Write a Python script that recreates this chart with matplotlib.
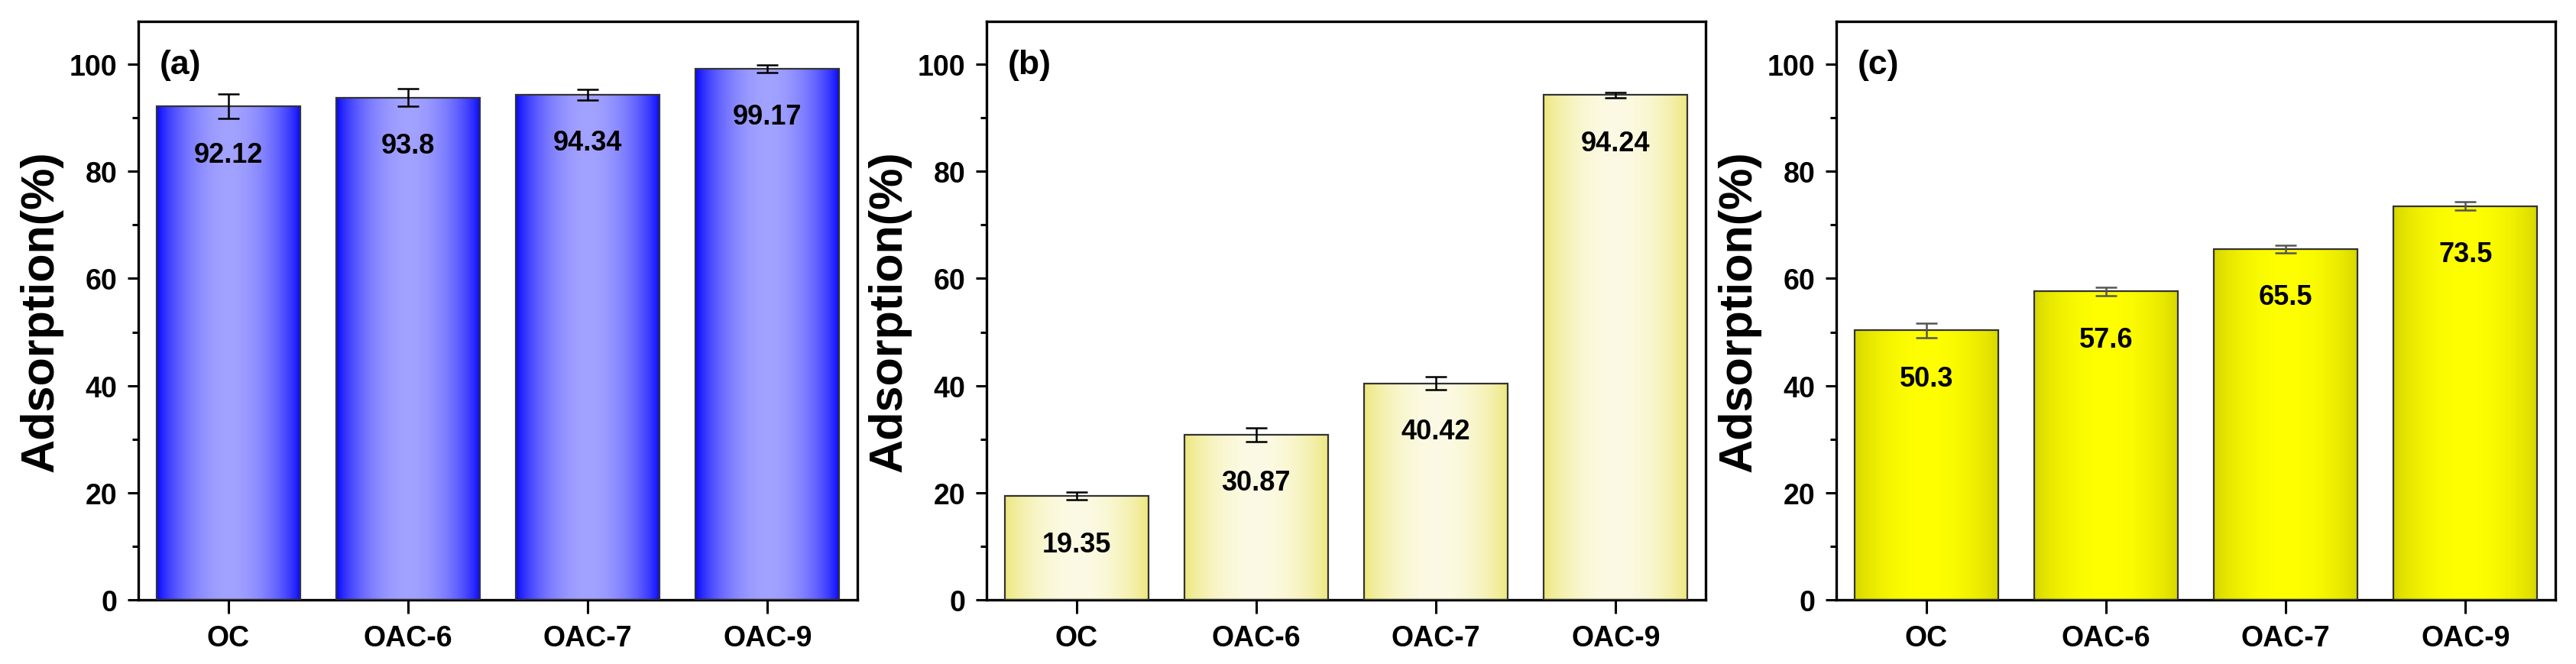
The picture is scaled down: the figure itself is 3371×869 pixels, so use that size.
import numpy as np
import matplotlib
matplotlib.use("Agg")
import matplotlib.pyplot as plt

# data
samples = ["OC", "OAC-6", "OAC-7", "OAC-9"]
vals_a = [92.12, 93.8, 94.34, 99.17]
err_a = [2.3, 1.7, 1.0, 0.7]
vals_b = [19.35, 30.87, 40.42, 94.24]
err_b = [0.7, 1.3, 1.2, 0.5]
vals_c = [50.3, 57.6, 65.5, 73.5]
err_c = [1.4, 0.75, 0.7, 0.8]
panel_tags = ["(a)", "(b)", "(c)"]

plt.rcParams['font.family'] = ['Liberation Sans', 'DejaVu Sans']
plt.rcParams['font.weight'] = 'bold'

fig = plt.figure(figsize=(33.71, 8.70), dpi=100)

lefts = [181, 1291, 2403]
W, H = 3371, 870
ax_w = 941 / W
ax_b = 1 - 786 / H
ax_h = (786 - 29) / H


def gradient_img(edge, center, n=256, p=0.7):
    t = np.linspace(0, 1, n)
    f = np.sin(np.pi * t) ** p
    edge = np.array(edge) / 255.0
    center = np.array(center) / 255.0
    rgb = edge[None, :] + (center - edge)[None, :] * f[:, None]
    return rgb[None, :, :]


# (edge colour, centre colour, errorbar colour)
styles = [
    ((0, 0, 255), (162, 162, 255), "black"),
    ((236, 230, 118), (252, 250, 228), "black"),
    ((212, 212, 0), (255, 255, 0), "#555555"),
]

datasets = [(vals_a, err_a), (vals_b, err_b), (vals_c, err_c)]

for i, (vals, errs) in enumerate(datasets):
    ax = fig.add_axes([lefts[i] / W, ax_b, ax_w, ax_h])
    edge, center, ecol = styles[i]
    x = np.arange(len(samples))
    bars = ax.bar(x, vals, width=0.8, color="none", edgecolor="#333333",
                  linewidth=1.6, zorder=3)
    img = gradient_img(edge, center)
    for b in bars:
        bx, by = b.get_x(), b.get_y()
        im = ax.imshow(img, extent=[bx, bx + b.get_width(), by, by + b.get_height()],
                       aspect="auto", zorder=2, interpolation="bilinear")
        im.set_clip_path(b)
    ax.errorbar(x, vals, yerr=errs, fmt="none", ecolor=ecol, elinewidth=1.8,
                capsize=10, capthick=1.8, zorder=4)
    for xi, v in zip(x, vals):
        ax.text(xi, v - 9, f"{v:g}", ha="center", va="center",
                fontsize=26, fontweight="bold", zorder=5)

    ax.set_xlim(-0.5, 3.5)
    ax.set_ylim(0, 108)
    ax.set_xticks(x)
    ax.set_xticklabels(samples, fontsize=27, fontweight="bold")
    ax.set_yticks(range(0, 101, 20))
    ax.set_yticks(range(10, 101, 20), minor=True)
    ax.tick_params(axis="y", labelsize=27, length=10, width=2.2, direction="out", pad=10)
    ax.tick_params(axis="y", which="minor", length=6, width=2.2)
    ax.tick_params(axis="x", length=13, width=2.2, direction="out", pad=10)
    for s in ax.spines.values():
        s.set_linewidth(2.4)
    ax.set_ylabel("Adsorption(%)", fontsize=44, fontweight="bold", labelpad=6)
    ax.text(0.03, 100 / 108, panel_tags[i], transform=ax.transAxes,
            fontsize=32, fontweight="bold", va="center", ha="left")

fig.savefig("out.png", dpi=100)
